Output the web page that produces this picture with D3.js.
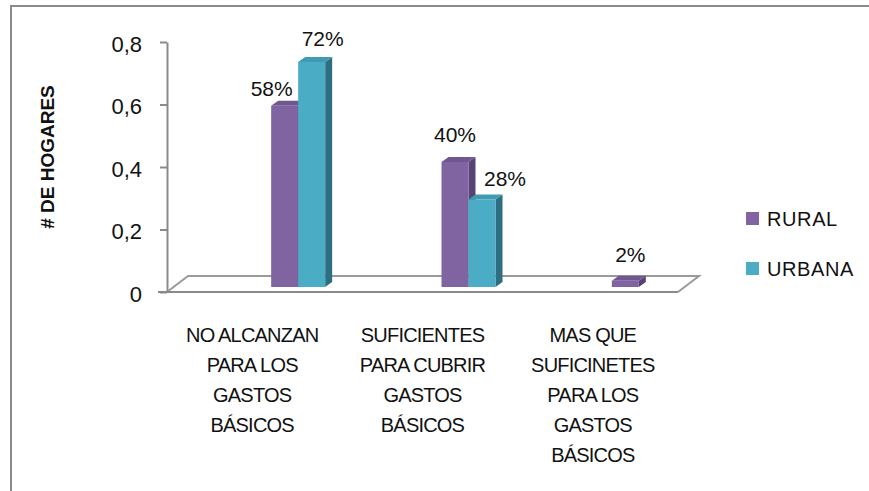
<!DOCTYPE html>
<html>
<head>
<meta charset="utf-8">
<script src="https://cdn.jsdelivr.net/npm/d3@7"></script>
<style>
  body { margin: 0; background: #fff; }
  text { font-family: "Liberation Sans", Arial, sans-serif; fill: #111; }
</style>
</head>
<body>
<script>
// data
const categories = [
  ["NO ALCANZAN", "PARA LOS", "GASTOS", "BÁSICOS"],
  ["SUFICIENTES", "PARA CUBRIR", "GASTOS", "BÁSICOS"],
  ["MAS QUE", "SUFICINETES", "PARA LOS", "GASTOS", "BÁSICOS"]
];
const seriesNames = ["RURAL", "URBANA"];
const rural = [0.58, 0.40, 0.02];
const urbana = [0.72, 0.28, null];
const ruralLabels = ["58%", "40%", "2%"];
const urbanaLabels = ["72%", "28%", ""];
const yTicks = [0, 0.2, 0.4, 0.6, 0.8];

// layout
const W = 869, H = 491;
const axisX = 167, floorRight = 678, y0 = 292, yTop = 42;
const depthX = 21, depthY = -16;     // floor depth
const barDX = 7, barDY = -5;         // bar depth
const barW = 27;
const colors = {
  RURAL:  {front: "#8064a2", top: "#6f5791", side: "#574477"},
  URBANA: {front: "#4bacc6", top: "#3f9bb3", side: "#2d6e80"}
};
// small nudges for data labels [dx, dy] from the bar's front-top center
const labelNudge = {
  RURAL:  [[-13, -10], [0, -20], [5, -19]],
  URBANA: [[11, -16], [23, -14], [0, 0]]
};

const svg = d3.select("body").append("svg")
  .attr("width", W).attr("height", H);

svg.append("rect").attr("width", W).attr("height", H).attr("fill", "#fff");

// outer frame
svg.append("path")
  .attr("d", `M11,${H + 5}V6H${W + 5}`)
  .attr("fill", "none").attr("stroke", "#8a8a8a").attr("stroke-width", 2);

const catKeys = categories.map(c => c.join(" "));
const x = d3.scaleBand().domain(catKeys).range([axisX, floorRight]);
const y = d3.scaleLinear().domain([0, 0.8]).range([y0, yTop]);

// floor
svg.append("path")
  .attr("d", `M${axisX},${y0}L${axisX + depthX},${y0 + depthY}L${floorRight + depthX},${y0 + depthY}L${floorRight},${y0}`)
  .attr("fill", "#fff").attr("stroke", "#9a9a9a").attr("stroke-width", 2);
svg.append("line")
  .attr("x1", axisX - 9).attr("x2", floorRight)
  .attr("y1", y0).attr("y2", y0)
  .attr("stroke", "#8a8a8a").attr("stroke-width", 2);

// y axis
const loc = d3.formatLocale({decimal: ",", thousands: ".", grouping: [3], currency: ["", "€"]});
const yAxis = svg.append("g")
  .attr("transform", `translate(${axisX},0)`)
  .call(d3.axisLeft(y).tickValues(yTicks).tickFormat(loc.format(".1~f"))
    .tickSize(7).tickSizeOuter(0).tickPadding(18));
yAxis.select(".domain").attr("stroke", "#8a8a8a").attr("stroke-width", 2);
yAxis.selectAll(".tick line").attr("stroke", "#8a8a8a").attr("stroke-width", 2);
yAxis.selectAll(".tick text")
  .attr("font-size", "22px").attr("font-family", "Liberation Sans, Arial, sans-serif")
  .attr("fill", "#111").attr("dy", "0.42em");

// y title
svg.append("text")
  .attr("transform", "translate(54,157) rotate(-90)")
  .attr("text-anchor", "middle")
  .attr("font-size", "19px").attr("font-weight", "bold")
  .text("# DE HOGARES");

// bars
const series = [
  {name: "RURAL", values: rural, labels: ruralLabels},
  {name: "URBANA", values: urbana, labels: urbanaLabels}
];

series.forEach((s, si) => {
  const c = colors[s.name];
  const pts = s.values.map((v, i) => ({v, i, label: s.labels[i]})).filter(d => d.v != null);
  const bx = d => x(catKeys[d.i]) + x.bandwidth() / 2 + 19 + si * barW;
  const base = y(0) + barDY;
  const top = d => y(d.v) + barDY;
  const g = svg.append("g");

  g.selectAll("path.side").data(pts).join("path")
    .attr("d", d => `M${bx(d) + barW},${top(d)}l${barDX},${barDY}V${base + barDY}l${-barDX},${-barDY}Z`)
    .attr("fill", c.side);
  g.selectAll("path.top").data(pts).join("path")
    .attr("d", d => `M${bx(d)},${top(d)}l${barDX},${barDY}h${barW}l${-barDX},${-barDY}Z`)
    .attr("fill", c.top);
  g.selectAll("rect").data(pts).join("rect")
    .attr("x", bx).attr("y", top)
    .attr("width", barW).attr("height", d => base - top(d))
    .attr("fill", c.front);
});

// data labels (after bars so they sit on top)
series.forEach((s, si) => {
  const pts = s.values.map((v, i) => ({v, i, label: s.labels[i]})).filter(d => d.v != null);
  svg.selectAll(null).data(pts).join("text")
    .attr("x", d => x(catKeys[d.i]) + x.bandwidth() / 2 + 19 + si * barW + barW / 2 + labelNudge[s.name][d.i][0])
    .attr("y", d => y(d.v) + barDY + labelNudge[s.name][d.i][1])
    .attr("text-anchor", "middle")
    .attr("font-size", "21px")
    .text(d => d.label);
});

// category labels
categories.forEach((lines, i) => {
  const t = svg.append("text")
    .attr("x", x(catKeys[i]) + x.bandwidth() / 2)
    .attr("y", 342)
    .attr("text-anchor", "middle")
    .attr("font-size", "20px")
    .attr("letter-spacing", "-0.8px");
  lines.forEach((ln, k) => {
    t.append("tspan")
      .attr("x", x(catKeys[i]) + x.bandwidth() / 2)
      .attr("dy", k === 0 ? 0 : 30)
      .text(ln);
  });
});

// legend
const legend = svg.append("g").attr("transform", "translate(746,212)");
seriesNames.forEach((n, i) => {
  legend.append("rect")
    .attr("x", 0).attr("y", i * 50)
    .attr("width", 13).attr("height", 13)
    .attr("fill", colors[n].front);
  legend.append("text")
    .attr("x", 21).attr("y", i * 50 + 14)
    .attr("font-size", "20px")
    .attr("letter-spacing", "0.6px")
    .text(n);
});
</script>
</body>
</html>
